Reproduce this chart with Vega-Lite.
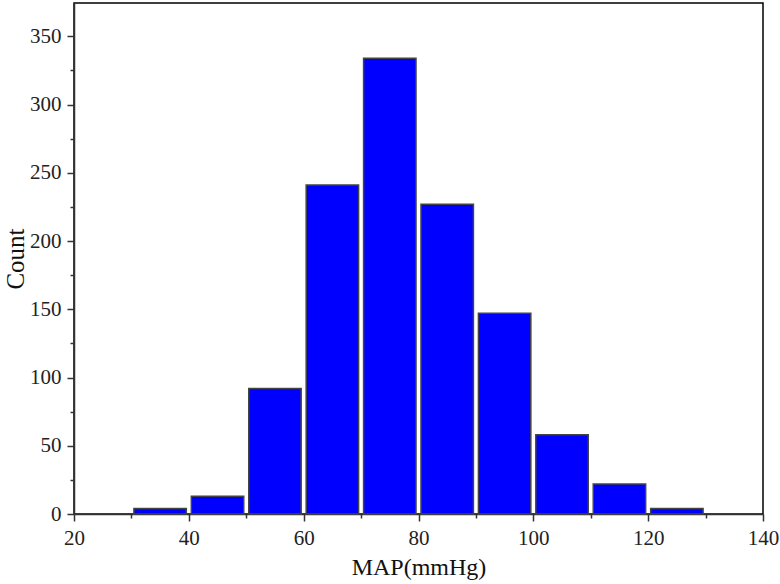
{
  "$schema": "https://vega.github.io/schema/vega-lite/v6.json",
  "width": 689,
  "height": 511,
  "autosize": {"type": "none"},
  "padding": {"left": 74, "top": 3, "right": 17, "bottom": 70},
  "background": "white",
  "config": {
    "view": {"stroke": "#000000", "strokeWidth": 1.5},
    "axis": {
      "domainColor": "#333333",
      "domainWidth": 1.5,
      "tickColor": "#333333",
      "tickWidth": 1.5,
      "grid": false,
      "labelFont": "Liberation Serif",
      "labelFontSize": 21,
      "labelColor": "#222222",
      "titleFont": "Liberation Serif",
      "titleFontWeight": "normal",
      "titleColor": "#111111"
    }
  },
  "data": {
    "values": [
      {"start": 30, "end": 40, "count": 4},
      {"start": 40, "end": 50, "count": 13},
      {"start": 50, "end": 60, "count": 92},
      {"start": 60, "end": 70, "count": 241},
      {"start": 70, "end": 80, "count": 334},
      {"start": 80, "end": 90, "count": 227},
      {"start": 90, "end": 100, "count": 147},
      {"start": 100, "end": 110, "count": 58},
      {"start": 110, "end": 120, "count": 22},
      {"start": 120, "end": 130, "count": 4}
    ]
  },
  "mark": {
    "type": "bar",
    "color": "#0000ff",
    "stroke": "#444444",
    "strokeWidth": 1.5,
    "xOffset": 2.5,
    "x2Offset": -2.5
  },
  "encoding": {
    "x": {
      "field": "start",
      "type": "quantitative",
      "scale": {"domain": [20, 140], "nice": false, "zero": false},
      "axis": {
        "title": "MAP(mmHg)",
        "titleFontSize": 24,
        "values": [20, 30, 40, 50, 60, 70, 80, 90, 100, 110, 120, 130, 140],
        "labelExpr": "datum.value % 20 === 0 ? datum.label : ''",
        "tickSize": {"expr": "datum.value % 20 === 0 ? 7 : 4"},
        "labelPadding": 6,
        "titlePadding": 7,
        "labelFlush": false,
        "format": "d"
      }
    },
    "x2": {"field": "end"},
    "y": {
      "field": "count",
      "type": "quantitative",
      "scale": {"domain": [0, 374.4], "nice": false},
      "axis": {
        "title": "Count",
        "titleFontSize": 25,
        "titleBaseline": "alphabetic",
        "values": [0, 25, 50, 75, 100, 125, 150, 175, 200, 225, 250, 275, 300, 325, 350],
        "labelExpr": "datum.value % 50 === 0 ? datum.label : ''",
        "tickSize": {"expr": "datum.value % 50 === 0 ? 7 : 4"},
        "labelPadding": 6,
        "titlePadding": 6,
        "labelFlush": false,
        "format": "d"
      }
    },
    "y2": {"datum": 0}
  }
}
